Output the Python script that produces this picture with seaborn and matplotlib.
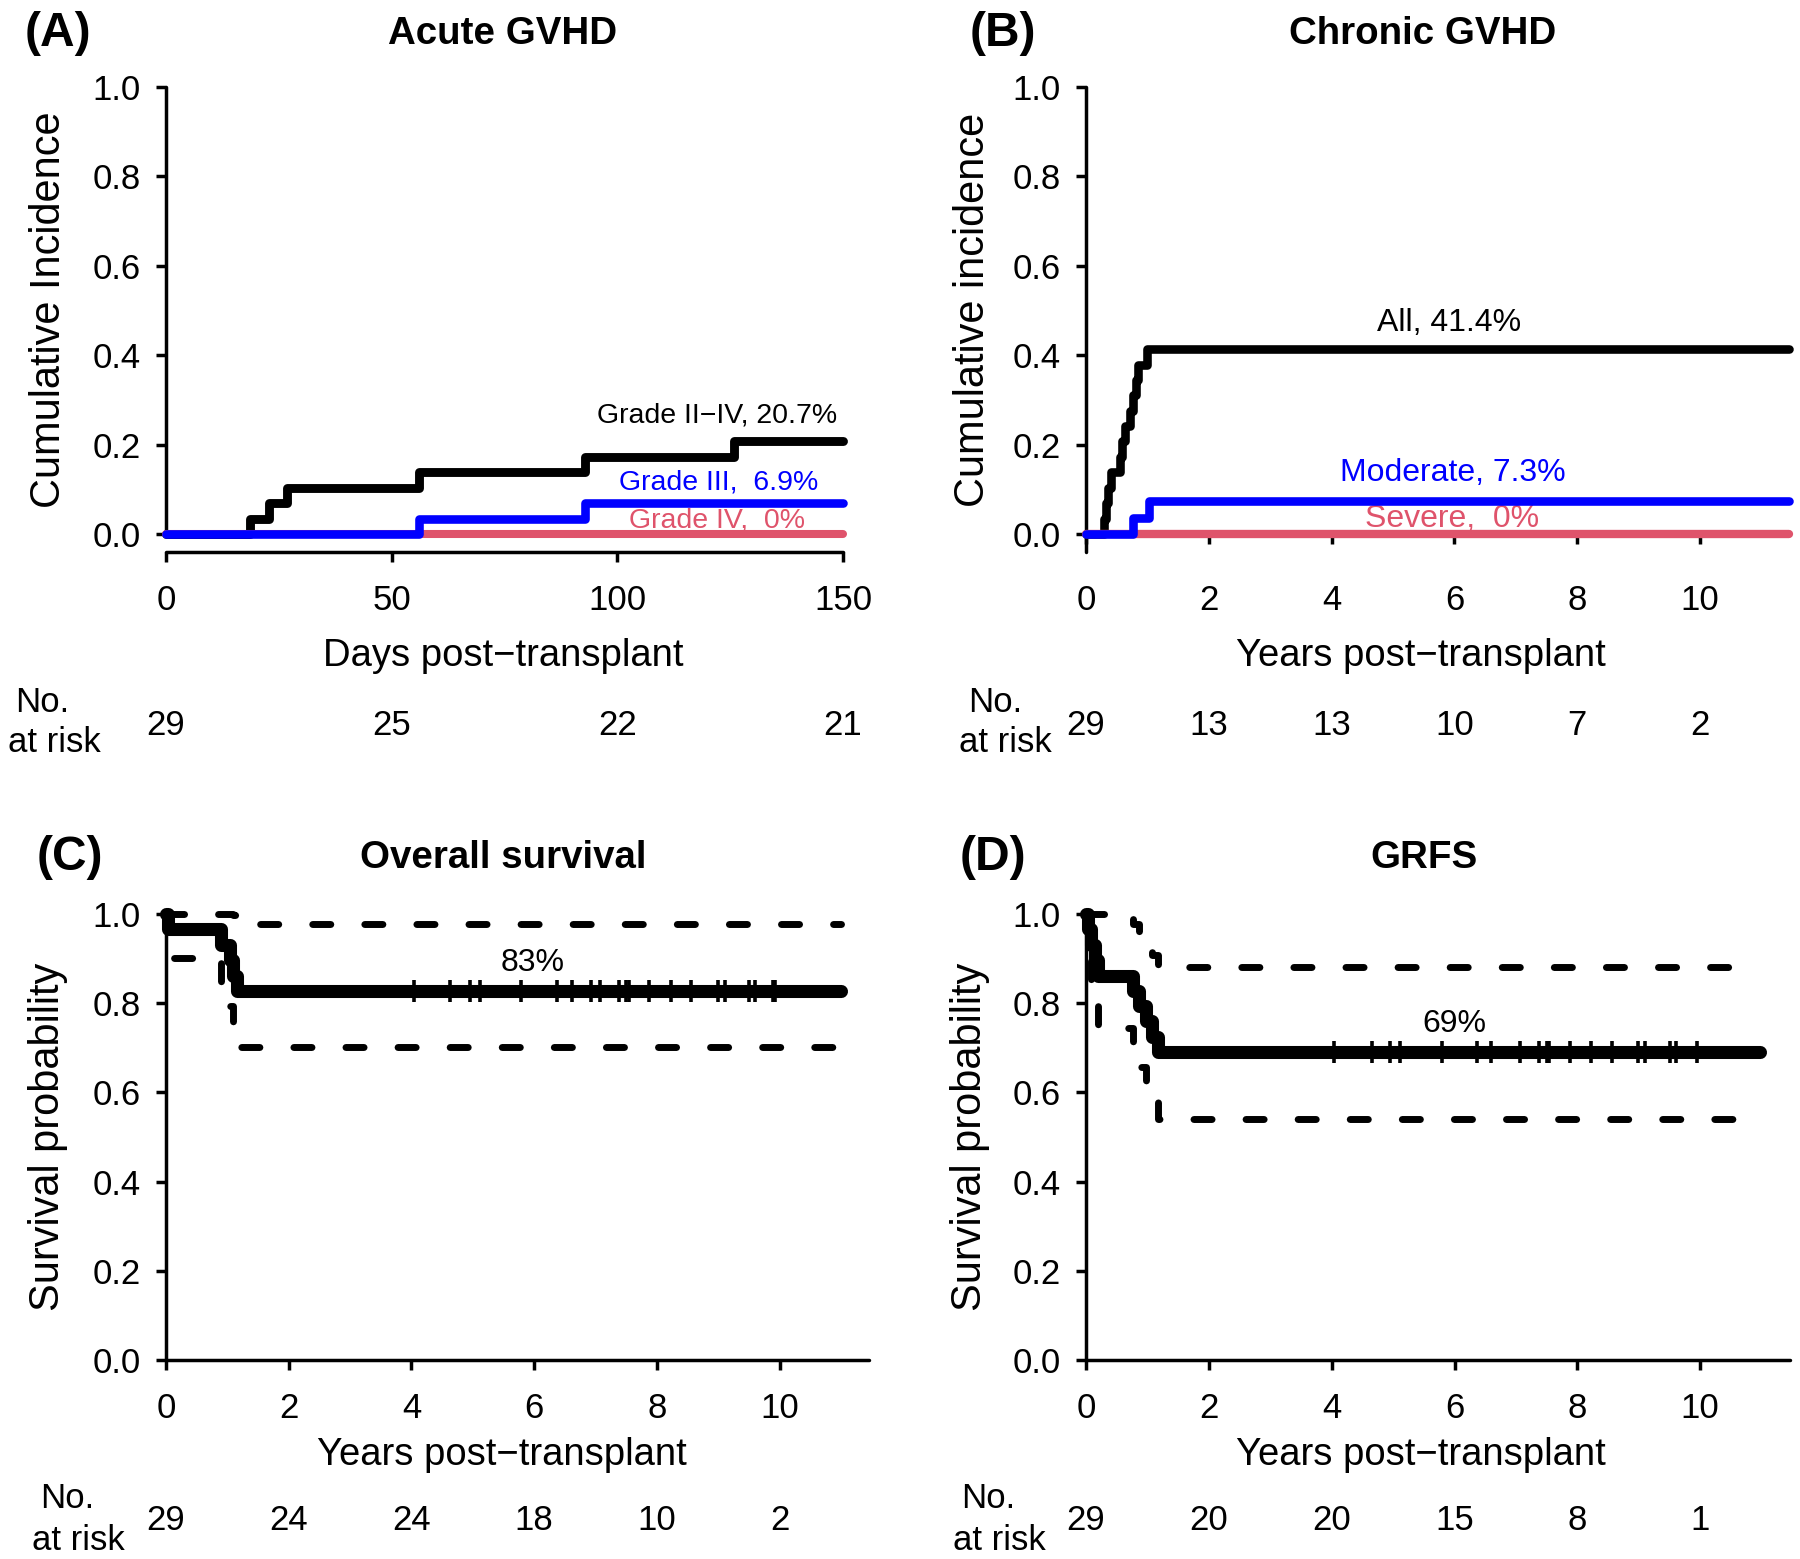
import numpy as np
import pandas as pd
import matplotlib
matplotlib.use("Agg")
import matplotlib.pyplot as plt
import matplotlib.transforms as mtransforms
import seaborn as sns

# ---------------- data ----------------
# (A) Acute GVHD, days post-transplant
acute_days = [0, 18.7, 22.8, 26.7, 56.0, 92.8, 125.9, 150]
acute_grade2_4 = [0, 0.0345, 0.069, 0.103, 0.138, 0.172, 0.207, 0.207]
acute_grade3_days = [0, 56.0, 92.8, 150]
acute_grade3 = [0, 0.0345, 0.069, 0.069]
acute_grade4_days = [0, 150]
acute_grade4 = [0, 0]
acute_risk_days = [0, 50, 100, 150]
acute_risk = [29, 25, 22, 21]

# (B) Chronic GVHD, years post-transplant
chronic_years = [0, 0.29, 0.32, 0.36, 0.40, 0.55, 0.59, 0.63, 0.72, 0.77, 0.81, 0.85, 1.0, 11.45]
chronic_all = [0, 0.034, 0.069, 0.103, 0.138, 0.172, 0.207, 0.241, 0.276, 0.310, 0.345, 0.379, 0.414, 0.414]
chronic_mod_years = [0, 0.76, 1.02, 11.45]
chronic_moderate = [0, 0.0365, 0.073, 0.073]
chronic_sev_years = [0, 11.45]
chronic_severe = [0, 0]
risk_years = [0, 2, 4, 6, 8, 10]
chronic_risk = [29, 13, 13, 10, 7, 2]

# (C) Overall survival
os_years = [0, 0.03, 0.90, 1.05, 1.10, 1.15, 11.0]
os_surv = [1.0, 0.966, 0.931, 0.897, 0.862, 0.828, 0.828]
os_upper = [1.0, 1.0, 1.0, 1.0, 0.997, 0.978, 0.978]
os_lower = [1.0, 0.902, 0.843, 0.793, 0.745, 0.701, 0.701]
os_censored = [4.04, 4.63, 4.96, 5.12, 5.79, 6.38, 6.62, 6.92, 7.08, 7.38, 7.50, 7.55,
               7.88, 8.23, 8.56, 8.99, 9.11, 9.51, 9.60, 9.89, 9.93]
os_censor_level = 0.828
os_risk = [29, 24, 24, 18, 10, 2]

# (D) GRFS
grfs_years = [0, 0.03, 0.08, 0.14, 0.20, 0.77, 0.87, 0.97, 1.07, 1.18, 10.98]
grfs_surv = [1.0, 0.966, 0.931, 0.897, 0.862, 0.828, 0.793, 0.759, 0.724, 0.690, 0.690]
grfs_upper = [1.0, 1.0, 1.0, 1.0, 1.0, 0.978, 0.955, 0.932, 0.907, 0.881, 0.881]
grfs_lower = [1.0, 0.902, 0.843, 0.793, 0.745, 0.701, 0.658, 0.618, 0.578, 0.540, 0.540]
grfs_censored = [4.03, 4.65, 4.95, 5.11, 5.80, 6.37, 6.60, 7.07, 7.37, 7.50, 7.54, 7.88,
                 8.23, 8.56, 8.99, 9.10, 9.51, 9.60, 9.94]
grfs_censor_level = 0.690
grfs_risk = [29, 20, 20, 15, 8, 1]

yticks = [0.0, 0.2, 0.4, 0.6, 0.8, 1.0]

BLACK = "#000000"
BLUE = "#0000FF"
RED = "#DF536B"

# ---------------- style ----------------
sns.set_theme(style="ticks")
plt.rcParams["font.family"] = ["Liberation Sans", "DejaVu Sans"]
plt.rcParams["axes.unicode_minus"] = True
plt.rcParams["text.color"] = "black"
plt.rcParams["axes.labelcolor"] = "black"
plt.rcParams["xtick.color"] = "black"
plt.rcParams["ytick.color"] = "black"

W, H = 1800, 1559
fig = plt.figure(figsize=(W / 100, H / 100), dpi=100)
fig.patch.set_facecolor("white")


def make_axes(xd, xp, yd, yp, xlim, ylim):
    """Place axes so that data values xd/yd land on pixel positions xp/yp."""
    sx = (xp[1] - xp[0]) / (xd[1] - xd[0])
    sy = (yp[1] - yp[0]) / (yd[1] - yd[0])  # negative (pixels go down)
    left = xp[0] + (xlim[0] - xd[0]) * sx
    right = xp[0] + (xlim[1] - xd[0]) * sx
    bottom = yp[0] + (ylim[0] - yd[0]) * sy
    top = yp[0] + (ylim[1] - yd[0]) * sy
    ax = fig.add_axes([left / W, 1 - bottom / H, (right - left) / W, (bottom - top) / H])
    ax.set_xlim(xlim)
    ax.set_ylim(ylim)
    return ax


def style_axes(ax, xticks, xticklabels, left_bounds, bottom_pos, bottom_bounds, xpad):
    sns.despine(ax=ax)
    ax.spines["left"].set_position(("data", 0))
    ax.spines["left"].set_bounds(*left_bounds)
    ax.spines["bottom"].set_position(("data", bottom_pos))
    ax.spines["bottom"].set_bounds(*bottom_bounds)
    for s in ("left", "bottom"):
        ax.spines[s].set_linewidth(2.5)
        ax.spines[s].set_color("black")
        ax.spines[s].set_capstyle("round")
    ax.set_xticks(xticks)
    ax.set_xticklabels(xticklabels)
    ax.set_yticks(yticks)
    ax.set_yticklabels([f"{v:.1f}" for v in yticks])
    ax.tick_params(direction="out", length=7, width=2.5, labelsize=25, color="black",
                   labelcolor="black")
    ax.tick_params(axis="x", pad=xpad)
    ax.tick_params(axis="y", pad=11)
    ax.set_xlabel("")
    ax.set_ylabel("")
    ax.patch.set_alpha(0)
    ax.grid(False)


def step(ax, x, y, color, lw, ls="-", z=3):
    df = pd.DataFrame({"t": x, "v": y})
    sns.lineplot(data=df, x="t", y="v", ax=ax, color=color, linewidth=lw,
                 drawstyle="steps-post", estimator=None, sort=False, linestyle=ls,
                 solid_capstyle="round", dash_capstyle="round", solid_joinstyle="round",
                 dash_joinstyle="round", zorder=z, legend=False, clip_on=False)


def censor(ax, times, level):
    df = pd.DataFrame({"t": times, "v": [level] * len(times)})
    sns.scatterplot(data=df, x="t", y="v", ax=ax, marker="|", s=272, linewidth=2.6,
                    color="black", zorder=5, legend=False, clip_on=False)


def fy(px):
    return 1 - px / H


def fx(px):
    return px / W


DASH = (0, (2.6, 4.9))

# ---------------- (A) Acute GVHD ----------------
axA = make_axes((0, 150), (166, 843), (0, 1), (534, 87), (-4, 156), (-0.04, 1.06))
step(axA, acute_days, acute_grade2_4, BLACK, 6.4, z=3)
step(axA, acute_grade4_days, acute_grade4, RED, 5.8, z=4)
step(axA, acute_grade3_days, acute_grade3, BLUE, 6.2, z=5)
style_axes(axA, [0, 50, 100, 150], ["0", "50", "100", "150"], (0, 1), -0.04, (0, 150), 16)
axA.text(148.7, 0.265, "Grade II\u2212IV, 20.7%", ha="right", va="center", fontsize=20.5,
         color=BLACK, zorder=2)
axA.text(122.4, 0.116, "Grade III,  6.9%", ha="center", va="center", fontsize=20.5,
         color=BLUE, zorder=2)
axA.text(122.0, 0.031, "Grade IV,  0%", ha="center", va="center", fontsize=20.5,
         color=RED, zorder=2)

# ---------------- (B) Chronic GVHD ----------------
axB = make_axes((0, 10), (1086, 1700), (0, 1), (534, 87), (-0.2, 11.7), (-0.04, 1.06))
step(axB, chronic_years, chronic_all, BLACK, 6.2, z=3)
step(axB, chronic_sev_years, chronic_severe, RED, 6.0, z=4)
step(axB, chronic_mod_years, chronic_moderate, BLUE, 6.2, z=5)
style_axes(axB, risk_years, [str(v) for v in risk_years], (-0.04, 1), 0, (0, 11.47), 29)
axB.text(5.92, 0.473, "All, 41.4%", ha="center", va="center", fontsize=23, color=BLACK, zorder=2)
axB.text(5.98, 0.136, "Moderate, 7.3%", ha="center", va="center", fontsize=23, color=BLUE,
         zorder=2)
axB.text(5.97, 0.033, "Severe,  0%", ha="center", va="center", fontsize=23, color=RED, zorder=2)

# ---------------- (C) Overall survival ----------------
axC = make_axes((0, 10), (166, 779.5), (0, 1), (1360, 914), (-0.3, 11.7), (-0.02, 1.06))
step(axC, os_years, os_upper, BLACK, 5.0, ls=DASH, z=3)
step(axC, os_years, os_lower, BLACK, 5.0, ls=DASH, z=3)
step(axC, os_years, os_surv, BLACK, 9.4, z=4)
censor(axC, os_censored, os_censor_level)
style_axes(axC, risk_years, [str(v) for v in risk_years], (0, 1), 0, (0, 11.46), 16)
axC.text(5.97, 0.891, "83%", ha="center", va="center", fontsize=23, color=BLACK)

# ---------------- (D) GRFS ----------------
axD = make_axes((0, 10), (1086, 1700.2), (0, 1), (1360, 914), (-0.3, 11.7), (-0.02, 1.06))
step(axD, grfs_years, grfs_upper, BLACK, 5.0, ls=DASH, z=3)
step(axD, grfs_years, grfs_lower, BLACK, 5.0, ls=DASH, z=3)
step(axD, grfs_years, grfs_surv, BLACK, 9.4, z=4)
censor(axD, grfs_censored, grfs_censor_level)
style_axes(axD, risk_years, [str(v) for v in risk_years], (0, 1), 0, (0, 11.46), 16)
axD.text(6.0, 0.753, "69%", ha="center", va="center", fontsize=23, color=BLACK)

# ---------------- titles, labels, risk tables ----------------
panel_specs = [
    # letter, letter_x, title, title_x, y_title, ylabel, ylabel_x, ylabel_y, xlabel, xlabel_x, xlabel_y
    ("(A)", 25, "Acute GVHD", 503, 34, "Cumulative Incidence", 49, 310,
     "Days post\u2212transplant", 503, 656),
    ("(B)", 970, "Chronic GVHD", 1423, 34, "Cumulative incidence", 973, 310,
     "Years post\u2212transplant", 1421, 656),
    ("(C)", 37, "Overall survival", 503, 858, "Survival probability", 48, 1137,
     "Years post\u2212transplant", 502, 1455),
    ("(D)", 960, "GRFS", 1424, 858, "Survival probability", 970, 1137,
     "Years post\u2212transplant", 1421, 1455),
]
for (letter, lx, title, tx, ty, ylab, ylx, yly, xlab, xlx, xly) in panel_specs:
    fig.text(fx(lx), fy(ty), letter, ha="left", va="center", fontsize=34.5, fontweight="bold",
             color="black")
    fig.text(fx(tx), fy(ty), title, ha="center", va="center", fontsize=27.7, fontweight="bold",
             color="black")
    fig.text(fx(ylx), fy(yly), ylab, ha="center", va="center", rotation=90, fontsize=29.9,
             color="black")
    fig.text(fx(xlx), fy(xly), xlab, ha="center", va="center", fontsize=27.5, color="black")

risk_specs = [
    (axA, acute_risk_days, acute_risk, 725.5, 42, 54, 702.5, 742.5),
    (axB, risk_years, chronic_risk, 725.5, 995, 1005, 702.5, 742.5),
    (axC, risk_years, os_risk, 1520.5, 67, 78, 1498.5, 1540.5),
    (axD, risk_years, grfs_risk, 1520.5, 988, 999, 1498.5, 1540.5),
]
for ax, xs, vals, ypx, nox, atx, noy, aty in risk_specs:
    tr = mtransforms.blended_transform_factory(ax.transData, fig.transFigure)
    for xv, n in zip(xs, vals):
        ax.text(xv, fy(ypx), str(n), transform=tr, ha="center", va="center", fontsize=25,
                clip_on=False, color="black")
    fig.text(fx(nox), fy(noy), "No.", ha="center", va="center", fontsize=25, color="black")
    fig.text(fx(atx), fy(aty), "at risk", ha="center", va="center", fontsize=25, color="black")

fig.savefig("out.png", dpi=100, facecolor="white")
